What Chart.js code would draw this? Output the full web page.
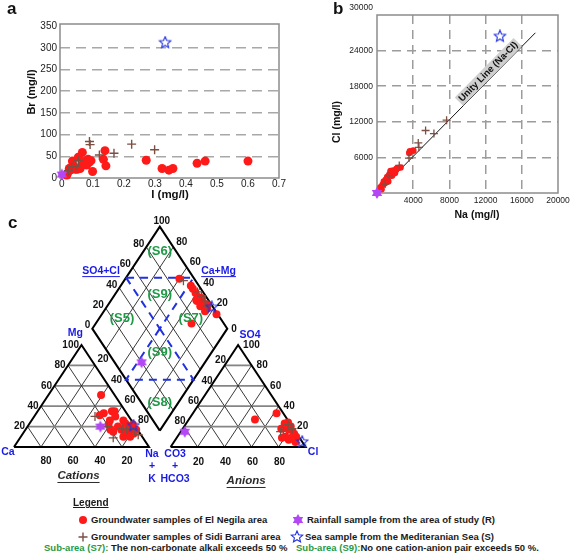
<!DOCTYPE html>
<html>
<head>
<meta charset="utf-8">
<title>Br-I, Cl-Na and Piper diagram</title>
<script src="https://cdn.jsdelivr.net/npm/chart.js@4.4.1/dist/chart.umd.min.js"></script>
<style>
html, body { margin: 0; padding: 0; background: #fff; }
body { position: relative; width: 576px; height: 557px; overflow: hidden; font-family: Arial, "Liberation Sans", sans-serif; }
canvas { position: absolute; }
.t { position: absolute; white-space: nowrap; font-weight: bold; font-size: 9.5px; line-height: 12px; color: #1a1a1a; }
.g { color: #1f9a46; }
</style>
</head>
<body>
<canvas id="chartA" width="290" height="205" style="left:0;top:0"></canvas>
<canvas id="chartB" width="286" height="226" style="left:290px;top:0"></canvas>
<canvas id="chartC" width="330" height="290" style="left:0;top:205px"></canvas>

<div class="t" style="left:73px;top:497px;font-size:10px;text-decoration:underline">Legend</div>
<div class="t" style="left:91px;top:514px">Groundwater samples of El Negila area</div>
<div class="t" style="left:91px;top:531px">Groundwater samples of Sidi Barrani area</div>
<div class="t" style="left:307px;top:514px">Rainfall sample from the area of study (R)</div>
<div class="t" style="left:305px;top:531px">Sea sample from the Mediteranian Sea (S)</div>
<div class="t" style="left:44px;top:542px"><span class="g">Sub-area (S7):</span> The non-carbonate alkali exceeds 50 %</div>
<div class="t" style="left:296px;top:542px"><span class="g">Sub-area (S9):</span>No one cation-anion pair exceeds 50 %.</div>

<script>
// ---- panel a : Br vs I (mg/l)
const aNegilaI  = [0.016, 0.018, 0.024, 0.027, 0.030, 0.034, 0.037, 0.043, 0.050, 0.053, 0.059, 0.064, 0.066, 0.073, 0.077,
                   0.080, 0.085, 0.088, 0.094, 0.099, 0.134, 0.139, 0.142, 0.272, 0.323, 0.345, 0.358, 0.436, 0.462, 0.600];
const aNegilaBr = [7, 11, 22, 18, 25, 39, 28, 20, 20, 48, 22, 30, 59, 34, 40,
                   30, 43, 36, 40, 15, 43, 63, 28, 41, 22, 18, 22, 34, 39, 39];
const aSidiI  = [0.021, 0.032, 0.045, 0.053, 0.089, 0.091, 0.121, 0.168, 0.225, 0.299];
const aSidiBr = [17, 26, 27, 40, 84, 77, 53, 57, 78, 65];
const aRainI = [0], aRainBr = [8];
const aSeaI = [0.333], aSeaBr = [312];
const aXTicks = [0, 0.1, 0.2, 0.3, 0.4, 0.5, 0.6, 0.7];
const aYTicks = [0, 50, 100, 150, 200, 250, 300, 350];

// ---- panel b : Cl vs Na (mg/l)
const bNegilaNa = [390, 500, 620, 760, 870, 980, 1100, 1130, 1240, 1350, 1500, 1500, 1650, 1790, 1980, 2000, 2160, 2300, 2600, 3570, 3640, 4010];
const bNegilaCl = [980, 640, 1370, 1940, 1650, 2220, 2400, 2670, 1940, 3070, 3460, 3700, 2900, 3800, 3350, 3600, 4090, 4200, 4310, 6740, 7020, 7140];
const bSidiNa = [900, 1350, 2460, 3530, 4560, 4630, 5370, 6290, 7690];
const bSidiCl = [1500, 2900, 4650, 5890, 8440, 7700, 10530, 10020, 12280];
const bRainNa = [0], bRainCl = [0];
const bSeaNa = [13580], bSeaCl = [26400];
const unityNa = [0, 17500], unityCl = [0, 27000];
const bXTicks = [0, 4000, 8000, 12000, 16000, 20000];
const bYTicks = [0, 6000, 12000, 18000, 24000, 30000];

// ---- panel c : Piper diagram (percent of meq)
// cations [Ca, Mg, Na+K]
const cNegilaCat = [[10,51,39],[21,31,48],[17,33,50],[10,35,55],[8,35,57],[10,30,60],[16,26,58],[6,26,68],[6,23,71],[5,20,75],[6,17,77],
                    [10,13,77],[9,10,81],[5,13,82],[12,17,71],[20,17,63],[19,22,59],[19,15,66],[1,17,82],[1,22,77],[14,10,76],[13,20,67]];
const cSidiCat = [[25,30,45],[22,9,69],[11,18,71],[8,17,75],[4,18,78],[2,12,86],[21,20,59],[3,15,82]];
const cRainCat = [[26,20,54]];
const cSeaCat = [[1,21,78]];
// anions [CO3+HCO3, SO4, Cl]
const cNegilaAn = [[24,27,49],[5,33,62],[9,18,73],[13,9,78],[3,22,75],[4,17,79],[1,20,79],[2,13,85],[6,9,85],[2,10,88],
                   [10,10,80],[9,7,84],[5,5,90],[4,23,73],[1,24,75]];
const cSidiAn = [[2,22,76],[8,17,75],[2,17,81],[11,15,74],[1,18,81]];
const cRainAn = [[82,15,3]];
const cSeaAn = [[0,5,95]];
// diamond [Ca+Mg, SO4+Cl]
const cNegilaDia = [[60,89],[48,94],[45,94],[41,94],[37,94],[34,96],[36,91],[30,95],[31,91],[25,95],[26,97],[25,92],[15,99],[29,76],[37,91],[34,94]];
const cSidiDia = [[56,91],[40,96],[35,97],[30,97],[26,96]];
const cRainDia = [[47,20]];
const cSeaDia = [[22,99]];
const piperSteps = [20, 40, 60, 80];

const FONT = 'Arial, "Liberation Sans", sans-serif';
Chart.defaults.font.family = FONT;
const RED = '#ff1a1a', BROWN = '#7d4f43', PURPLE = '#b347f5', BLUE = '#2130e0', GREEN = '#1f9a46', LBLUE = '#1a1ae6';

function zip(xs, ys) { return xs.map((x, i) => ({x: x, y: ys[i]})); }

function starCanvas(n, size, fill, stroke, inner) {
  const c = document.createElement('canvas');
  c.width = c.height = size;
  const ctx = c.getContext('2d');
  const r = size / 2 - 1, cx = size / 2, cy = size / 2;
  ctx.beginPath();
  for (let i = 0; i < n * 2; i++) {
    const rad = i % 2 ? r * inner : r;
    const a = -Math.PI / 2 + i * Math.PI / n;
    ctx.lineTo(cx + rad * Math.cos(a), cy + rad * Math.sin(a));
  }
  ctx.closePath();
  if (fill) { ctx.fillStyle = fill; ctx.fill(); }
  if (stroke) { ctx.strokeStyle = stroke; ctx.lineWidth = 1.1; ctx.stroke(); }
  return c;
}
const rainStar = starCanvas(6, 14, PURPLE, null, 0.58);
const seaStar = starCanvas(5, 14, null, BLUE, 0.45);

const framePlugin = {
  id: 'frame',
  beforeDatasetsDraw(chart) {
    const {ctx, chartArea: a} = chart;
    ctx.save();
    ctx.strokeStyle = '#8c8c8c';
    ctx.lineWidth = 1.5;
    ctx.strokeRect(a.left, a.top, a.right - a.left, a.bottom - a.top);
    ctx.restore();
  }
};

// text drawn on top of a chart; p = data position, at = pixel position
function notes(items) {
  return {
    id: 'notes',
    afterDatasetsDraw(chart) {
      const ctx = chart.ctx;
      items.forEach(it => {
        let x, y;
        if (it.p) { x = chart.scales.x.getPixelForValue(it.p.x); y = chart.scales.y.getPixelForValue(it.p.y); }
        else { x = it.at[0]; y = it.at[1]; }
        const size = it.size || 10;
        ctx.save();
        ctx.translate(x + (it.dx || 0), y + (it.dy || 0));
        let rot = it.rot || 0;
        if (it.along) {
          const x0 = chart.scales.x.getPixelForValue(it.along[0].x), y0 = chart.scales.y.getPixelForValue(it.along[0].y);
          const x1 = chart.scales.x.getPixelForValue(it.along[1].x), y1 = chart.scales.y.getPixelForValue(it.along[1].y);
          rot = Math.atan2(y1 - y0, x1 - x0);
        }
        ctx.rotate(rot);
        ctx.font = (it.style || '') + ' ' + (it.weight || 'bold') + ' ' + size + 'px ' + FONT;
        ctx.textAlign = it.align || 'center';
        ctx.textBaseline = it.base || 'middle';
        const w = ctx.measureText(it.t).width;
        const xl = ctx.textAlign === 'center' ? -w / 2 : (ctx.textAlign === 'right' ? -w : 0);
        const oy = it.perp || 0;
        if (it.bg) { ctx.fillStyle = it.bg; ctx.fillRect(xl - 2, oy - size * 0.62, w + 4, size * 1.24); }
        ctx.fillStyle = it.color || '#111';
        ctx.fillText(it.t, 0, oy);
        if (it.under) ctx.fillRect(xl, size * 0.52, w, 1);
        ctx.restore();
      });
    }
  };
}

const baseOpts = {
  responsive: false, animation: false, devicePixelRatio: 1, events: [],
  plugins: {legend: {display: false}, tooltip: {enabled: false}}
};

// ---------------- chart a
new Chart(document.getElementById('chartA'), {
  type: 'scatter',
  data: {datasets: [
    {data: zip(aRainI, aRainBr), pointStyle: rainStar, pointRadius: 6, clip: false},
    {data: zip(aSidiI, aSidiBr), pointStyle: 'cross', pointRadius: 4.5, borderColor: BROWN, borderWidth: 1.4, clip: false},
    {data: zip(aNegilaI, aNegilaBr), pointStyle: 'circle', pointRadius: 4.5, backgroundColor: RED, borderWidth: 0, clip: false},
    {data: zip(aSeaI, aSeaBr), pointStyle: seaStar, pointRadius: 6, clip: false}
  ]},
  options: Object.assign({}, baseOpts, {
    layout: {autoPadding: false, padding: {left: 0, right: 11, top: 24, bottom: 0}},
    scales: {
      x: {type: 'linear', min: -0.006, max: 0.7,
          afterBuildTicks: s => { s.ticks = aXTicks.map(v => ({value: v})); },
          afterFit: s => { s.height = 27; },
          grid: {display: false, drawTicks: false}, border: {display: false},
          ticks: {font: {size: 10}, color: '#222', padding: 0, maxRotation: 0, autoSkip: false,
                  callback: v => String(Math.round(v * 10) / 10)}},
      y: {type: 'linear', min: 0, max: 355,
          afterBuildTicks: s => { s.ticks = aYTicks.map(v => ({value: v})); },
          afterFit: s => { s.width = 60; },
          grid: {drawTicks: false, lineWidth: 1.6,
                 color: c => (c.tick && c.tick.value > 0 && c.tick.value < 350) ? '#a8a8a8' : 'rgba(0,0,0,0)'},
          border: {display: false, dash: [10, 6]},
          ticks: {font: {size: 10}, color: '#222', padding: 3, autoSkip: false}}
    }
  }),
  plugins: [framePlugin, notes([
    {t: 'a', at: [7, 14], size: 17, align: 'left', base: 'alphabetic'},
    {t: 'Br (mg/l)', at: [32, 92], size: 11, rot: -Math.PI / 2},
    {t: 'I (mg/l)', at: [170, 195], size: 11.5}
  ])]
});

// ---------------- chart b
const unityAt = {x: unityNa[1] * 0.73, y: unityCl[1] * 0.73};
const bYTop = bYTicks[bYTicks.length - 1];
new Chart(document.getElementById('chartB'), {
  type: 'scatter',
  data: {datasets: [
    {data: zip(bRainNa, bRainCl), pointStyle: rainStar, pointRadius: 6, clip: false},
    {data: zip(bSidiNa, bSidiCl), pointStyle: 'cross', pointRadius: 4, borderColor: BROWN, borderWidth: 1.3, clip: false},
    {data: zip(bNegilaNa, bNegilaCl), pointStyle: 'circle', pointRadius: 3.3, backgroundColor: RED, borderWidth: 0, clip: false},
    {data: zip(bSeaNa, bSeaCl), pointStyle: seaStar, pointRadius: 6, clip: false},
    {data: zip(unityNa, unityCl), showLine: true, pointRadius: 0, borderColor: '#111', borderWidth: 1, clip: false}
  ]},
  options: Object.assign({}, baseOpts, {
    layout: {autoPadding: false, padding: {left: 0, right: 18, top: 15, bottom: 0}},
    scales: {
      x: {type: 'linear', min: 0, max: 20000,
          afterBuildTicks: s => { s.ticks = bXTicks.map(v => ({value: v})); },
          afterFit: s => { s.height = 33; },
          grid: {drawTicks: false, lineWidth: 1.5,
                 color: c => (c.tick && c.tick.value > 0 && c.tick.value < 20000) ? '#9c9c9c' : 'rgba(0,0,0,0)'},
          border: {display: false, dash: [9, 6]},
          ticks: {font: {size: 8.5}, color: '#222', padding: 3, maxRotation: 0, autoSkip: false,
                  callback: v => v === 0 ? '' : String(v)}},
      y: {type: 'linear', min: 0, max: bYTop,
          afterBuildTicks: s => { s.ticks = bYTicks.map(v => ({value: v})); },
          afterFit: s => { s.width = 87; },
          grid: {drawTicks: false, lineWidth: 1.5,
                 color: c => (c.tick && c.tick.value > 0 && c.tick.value < bYTop) ? '#9c9c9c' : 'rgba(0,0,0,0)'},
          border: {display: false, dash: [9, 6]},
          ticks: {font: {size: 8.5}, color: '#222', padding: 4, autoSkip: false,
                  callback: v => (v === 0 || v === bYTop) ? '' : String(v)}}
    }
  }),
  plugins: [framePlugin, notes([
    {t: 'b', at: [43, 14], size: 17, align: 'left', base: 'alphabetic'},
    {t: String(bYTop), at: [83, 7.5], size: 8.5, weight: 'normal', align: 'right', color: '#222'},
    {t: 'Cl (mg/l)', at: [47, 122], size: 10.5, rot: -Math.PI / 2},
    {t: 'Na (mg/l)', at: [187, 215], size: 10.5},
    {t: 'Unity Line (Na-Cl)', p: unityAt, size: 9.5, perp: -6, bg: '#cfcfcf',
     along: [{x: unityNa[0], y: unityCl[0]}, {x: unityNa[1], y: unityCl[1]}]}
  ])]
});

// ---------------- chart c (Piper)
const H = Math.sqrt(3) / 2, GAP = 16;
const cat = (ca, mg, na) => ({x: na + mg / 2, y: mg * H});
const an = (co3, so4, cl) => ({x: 100 + GAP + cl + so4 / 2, y: so4 * H});
const dia = (cm, sc) => ({x: 100 + GAP / 2 + (sc - cm) / 2, y: GAP * H + (cm + sc) * H});

function allPts(catRows, anRows, diaRows) {
  return catRows.map(r => cat(r[0], r[1], r[2]))
    .concat(anRows.map(r => an(r[0], r[1], r[2])))
    .concat(diaRows.map(r => dia(r[0], r[1])));
}
function line(pts, color, width, dash) {
  return {data: pts, showLine: true, pointRadius: 0, borderColor: color, borderWidth: width,
          borderDash: dash || [], borderJoinStyle: 'miter', clip: false};
}

const cSets = [
  {data: allPts(cRainCat, cRainAn, cRainDia), pointStyle: rainStar, pointRadius: 6, clip: false},
  {data: allPts(cSeaCat, cSeaAn, cSeaDia), pointStyle: seaStar, pointRadius: 6, clip: false},
  {data: allPts(cSidiCat, cSidiAn, cSidiDia), pointStyle: 'cross', pointRadius: 4.5, borderColor: BROWN, borderWidth: 1.3, clip: false},
  {data: allPts(cNegilaCat, cNegilaAn, cNegilaDia), pointStyle: 'circle', pointRadius: 4, backgroundColor: RED, borderWidth: 0, clip: false},
  line([dia(100, 50), dia(50, 100), dia(50, 50), dia(100, 50)], BLUE, 2, [8, 6]),
  line([dia(50, 50), dia(50, 0), dia(0, 50), dia(50, 50)], BLUE, 2, [8, 6])
];
// outlines
cSets.push(line([cat(100, 0, 0), cat(0, 0, 100), cat(0, 100, 0), cat(100, 0, 0)], '#000', 2));
cSets.push(line([an(100, 0, 0), an(0, 0, 100), an(0, 100, 0), an(100, 0, 0)], '#000', 2));
cSets.push(line([dia(0, 0), dia(100, 0), dia(100, 100), dia(0, 100), dia(0, 0)], '#000', 2));
// grid
piperSteps.forEach(k => {
  cSets.push(line([cat(100 - k, k, 0), cat(0, k, 100 - k)], '#858585', 1.8));
  cSets.push(line([cat(k, 0, 100 - k), cat(k, 100 - k, 0)], '#222', 0.9));
  cSets.push(line([cat(100 - k, 0, k), cat(0, 100 - k, k)], '#222', 0.9));
  cSets.push(line([an(100 - k, k, 0), an(0, k, 100 - k)], '#858585', 1.8));
  cSets.push(line([an(k, 0, 100 - k), an(k, 100 - k, 0)], '#222', 0.9));
  cSets.push(line([an(100 - k, 0, k), an(0, 100 - k, k)], '#222', 0.9));
  cSets.push(line([dia(k, 0), dia(k, 100)], '#222', 0.9));
  cSets.push(line([dia(0, k), dia(100, k)], '#222', 0.9));
});

const cNotes = [{t: 'c', at: [8, 23], size: 17, align: 'left', base: 'alphabetic'}];
[20, 40, 60, 80, 100].forEach(k => cNotes.push({t: String(k), p: cat(100 - k, k, 0), dx: -2.5, align: 'right'}));
piperSteps.forEach(k => cNotes.push({t: String(k), p: cat(0, 100 - k, k), dx: 2.5, dy: -6, align: 'left'}));
piperSteps.forEach(k => cNotes.push({t: String(k), p: cat(k, 0, 100 - k), dx: 5, dy: 14}));
piperSteps.forEach(k => cNotes.push({t: String(k), p: an(k, 100 - k, 0), dx: 1.5, dy: -5, align: 'right'}));
[100, 80, 60, 40, 20].forEach(k => cNotes.push({t: String(k), p: an(0, k, 100 - k), dx: 5, align: 'left'}));
piperSteps.forEach(k => cNotes.push({t: String(k), p: an(100 - k, 0, k), dx: 1, dy: 15}));
[0, 20, 40, 60, 80].forEach(k => cNotes.push({t: String(k), p: dia(100, k), dx: -2, dy: -3, align: 'right'}));
cNotes.push({t: '100', p: dia(100, 100), dx: 2, dy: -5});
[80, 60, 40, 20].forEach(k => cNotes.push({t: String(k), p: dia(k, 100), dx: 3, dy: -5, align: 'left'}));
cNotes.push({t: '0', p: dia(0, 100), dx: 4, dy: 1, align: 'left'});
[['(S6)', dia(88, 88)], ['(S9)', dia(67, 67)], ['(S5)', dia(83, 27)], ['(S7)', dia(32, 78)],
 ['(S9)', dia(38.5, 38.5)], ['(S8)', dia(14, 14)]].forEach(g => cNotes.push({t: g[0], p: g[1], size: 13, color: GREEN}));
[
  {t: 'Ca', p: cat(100, 0, 0), dx: -6, dy: 5},
  {t: 'Na', p: cat(0, 0, 100), dx: 3, dy: 7},
  {t: '+', p: cat(0, 0, 100), dx: 3, dy: 19.5},
  {t: 'K', p: cat(0, 0, 100), dx: 3, dy: 32},
  {t: 'CO3', p: an(100, 0, 0), dx: 4.5, dy: 7},
  {t: '+', p: an(100, 0, 0), dx: 4.5, dy: 19.5},
  {t: 'HCO3', p: an(100, 0, 0), dx: 4.5, dy: 32},
  {t: 'Cl', p: an(0, 0, 100), dx: 7.5, dy: 5},
  {t: 'Mg', p: cat(0, 100, 0), dx: 1.5, dy: -12, align: 'right'},
  {t: 'SO4', p: an(0, 100, 0), dx: 12, dy: -10},
  {t: 'SO4+Cl', p: dia(100, 50), dx: -25, dy: -7, under: true},
  {t: 'Ca+Mg', p: dia(50, 100), dx: 25, dy: -7, under: true}
].forEach(v => { v.size = 10.5; v.color = LBLUE; cNotes.push(v); });
cNotes.push({t: 'Cations', p: cat(50, 0, 50), dx: -3, dy: 29, size: 11.5, style: 'italic', color: '#2a2a2a', under: true});
cNotes.push({t: 'Anions', p: an(50, 0, 50), dx: 8, dy: 34, size: 11.5, style: 'italic', color: '#2a2a2a', under: true});

new Chart(document.getElementById('chartC'), {
  type: 'scatter',
  data: {datasets: cSets},
  options: Object.assign({}, baseOpts, {
    layout: {autoPadding: false, padding: 0},
    scales: {
      x: {type: 'linear', display: false, min: -10.37, max: 234.07},
      y: {type: 'linear', display: false, min: -40.75, max: 205.43}
    }
  }),
  plugins: [notes(cNotes)]
});

// ---------------- legend marks
function mark(x, y, draw) {
  const c = document.createElement('canvas');
  c.width = c.height = 16;
  c.style.left = (x - 8) + 'px';
  c.style.top = (y - 8) + 'px';
  draw(c.getContext('2d'));
  document.body.appendChild(c);
}
mark(83, 520, ctx => { ctx.fillStyle = RED; ctx.beginPath(); ctx.arc(8, 8, 4, 0, Math.PI * 2); ctx.fill(); });
mark(83, 537, ctx => { ctx.strokeStyle = BROWN; ctx.lineWidth = 1.4; ctx.beginPath();
  ctx.moveTo(3.5, 8); ctx.lineTo(12.5, 8); ctx.moveTo(8, 3.5); ctx.lineTo(8, 12.5); ctx.stroke(); });
mark(298, 520, ctx => ctx.drawImage(starCanvas(6, 14, PURPLE, null, 0.58), 1, 1));
mark(297, 537, ctx => ctx.drawImage(starCanvas(5, 14, null, BLUE, 0.45), 1, 1));
</script>
</body>
</html>
